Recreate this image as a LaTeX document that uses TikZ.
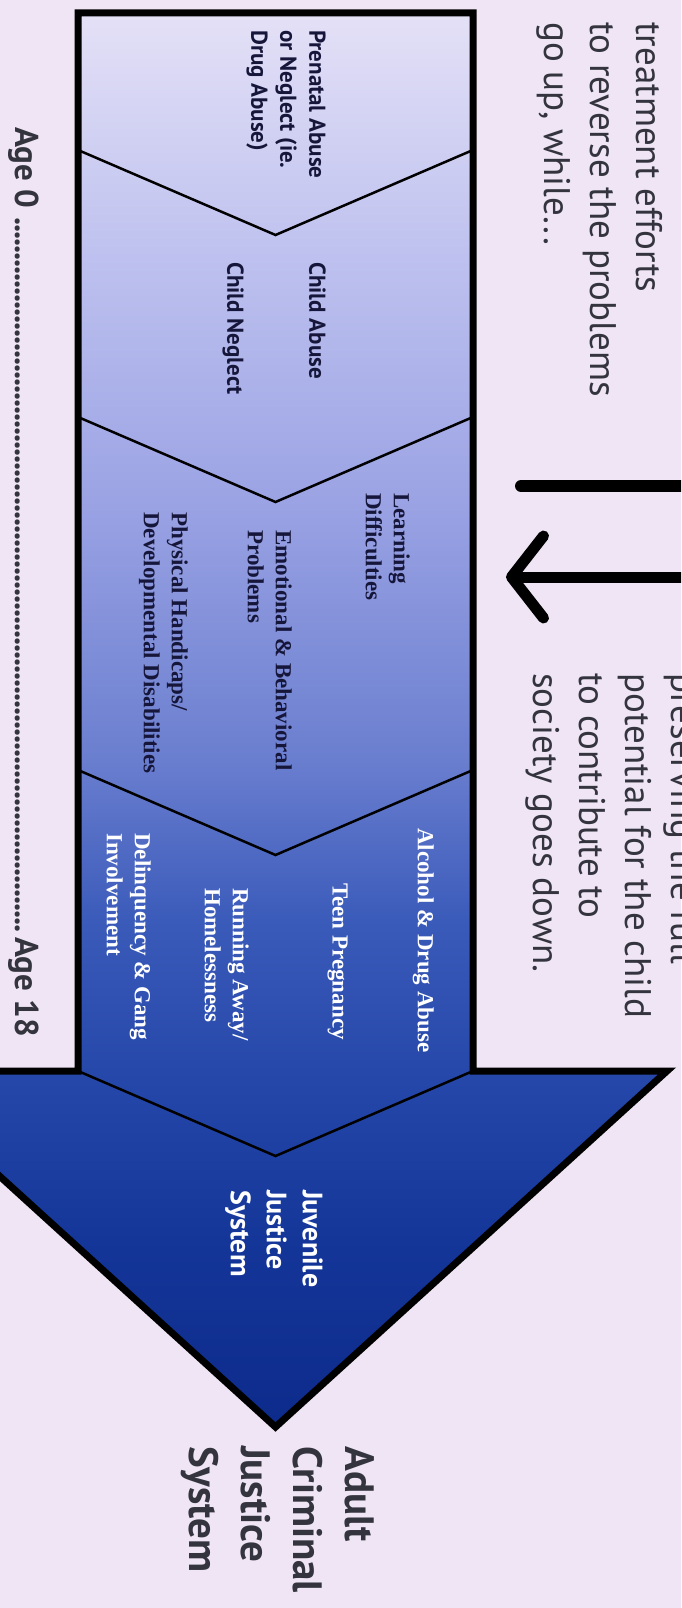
\documentclass[tikz,border=0pt]{standalone}
\usepackage{fontspec}
\setmainfont{Liberation Serif}
\newfontfamily\plainsans{PT Sans}
\usetikzlibrary{arrows.meta}

\definecolor{paper}{HTML}{F0E5F5}
\definecolor{band0}{HTML}{E6E2F7}
\definecolor{band1}{HTML}{BFC2EF}
\definecolor{band2}{HTML}{9BA3E4}
\definecolor{band3}{HTML}{6A7ECF}
\definecolor{band4}{HTML}{3B5BBA}
\definecolor{band5}{HTML}{2648AA}
\definecolor{band6}{HTML}{143598}
\definecolor{band7}{HTML}{0C2A8A}
\definecolor{inkgray}{HTML}{34343E}
\definecolor{labink}{HTML}{16163A}

\tikzset{
  sidetext/.style={rotate=-90, anchor=north west, inner sep=0pt, align=left,
    text=inkgray, font=\plainsans\fontsize{37}{46}\selectfont},
  lab/.style={rotate=-90, anchor=north west, inner sep=0pt, align=left,
    text=labink, font=\bfseries\fontsize{23}{28}\selectfont},
  sanslab/.style={lab, font=\plainsans\bfseries\fontsize{23}{29}\selectfont},
  whitelab/.style={lab, text=white},
  chev/.style={line width=2.5pt},
  outl/.style={line width=7pt, line join=miter},
}

\begin{document}
\begin{tikzpicture}[x=1pt, y=-1pt]
    \useasboundingbox (0,0) rectangle (681,1608);
    \clip (0,0) rectangle (681,1608);
    \fill[paper] (0,0) rectangle (681,1608);

    % Arrow outline
    \coordinate (tl) at (78,13);
    \coordinate (tr) at (473,13);
    \coordinate (br) at (473,1071);
    \coordinate (hr) at (667,1071);
    \coordinate (tip) at (275.5,1427);
    \coordinate (hl) at (-116,1071);
    \coordinate (bl) at (78,1071);

    % Body shading, light at the top, dark at the tip
    \begin{scope}
        \clip (tl) -- (bl) -- (hl) -- (tip) -- (hr) -- (br) -- (tr) -- cycle;
        \shade[top color=band0, bottom color=band1] (-130,0) rectangle (700,250);
        \shade[top color=band1, bottom color=band2] (-130,250) rectangle (700,500);
        \shade[top color=band2, bottom color=band3] (-130,500) rectangle (700,760);
        \shade[top color=band3, bottom color=band4] (-130,760) rectangle (700,920);
        \shade[top color=band4, bottom color=band5] (-130,920) rectangle (700,1071);
        \shade[top color=band5, bottom color=band6] (-130,1071) rectangle (700,1250);
        \shade[top color=band6, bottom color=band7] (-130,1250) rectangle (700,1440);
    \end{scope}

    % Chevrons between the stages
    \foreach \ya in {150,417,770,1071} {
        \draw[chev] (78,\ya) -- (275.5,\ya+85) -- (473,\ya);
    }

    \draw[outl] (tl) -- (bl) -- (hl) -- (tip) -- (hr) -- (br) -- (tr) -- cycle;

    % Arrow and bar on the right
    \coordinate (barL) at (521,486);
    \coordinate (barR) at (700,486);
    \draw[line width=12pt, line cap=round] (barL) -- (barR);
    \coordinate (shaftR) at (700,577);
    \coordinate (shaftL) at (506,577);
    \draw[line width=11pt, -{Straight Barb[length=32pt, width=82pt, line cap=round, line join=round]}] (shaftR) -- (shaftL);

    % Side texts
    \node[sidetext] (effort) at (663,22) {treatment efforts\\to reverse the problems\\go up, while...};
    \node[sidetext] (worth) at (698,673) {preserving the full\\potential for the child\\to contribute to\\society goes down.};

    % Stage labels
    \node[sanslab] (prenatal) at (326,30) {Prenatal Abuse\\or Neglect (ie.\\Drug Abuse)};
    \node[sanslab] (cabuse) at (326,262) {Child Abuse};
    \node[sanslab] (cneglect) at (244,262) {Child Neglect};
    \node[lab] (learn) at (410,493) {Learning\\Difficulties};
    \node[lab] (emo) at (292,530) {Emotional \& Behavioral\\Problems};
    \node[lab] (phys) at (188,512) {Physical Handicaps/\\Developmental Disabilities};
    \node[whitelab] (alco) at (434,828) {Alcohol \& Drug Abuse};
    \node[whitelab] (teen) at (348,883) {Teen Pregnancy};
    \node[whitelab] (runaway) at (249,888) {Running Away/\\Homelessness};
    \node[whitelab] (gang) at (151,833) {Delinquency \& Gang\\Involvement};
    \node[whitelab, font=\plainsans\bfseries\fontsize{28}{36}\selectfont] (juv) at (323,1190) {Juvenile\\Justice\\System};
    \node[sidetext, font=\plainsans\bfseries\fontsize{41}{52}\selectfont] (adult) at (375,1446) {Adult\\Criminal\\Justice\\System};

    % Age line
    \node[rotate=-90, anchor=base west, inner sep=0pt, text=inkgray,
        font=\plainsans\bfseries\fontsize{33}{40}\selectfont] (age) at (15,127)
        {\makebox[910pt][l]{Age 0 \leaders\hbox to 7pt{\hss.\hss}\hfill Age 18}};
\end{tikzpicture}
\end{document}
